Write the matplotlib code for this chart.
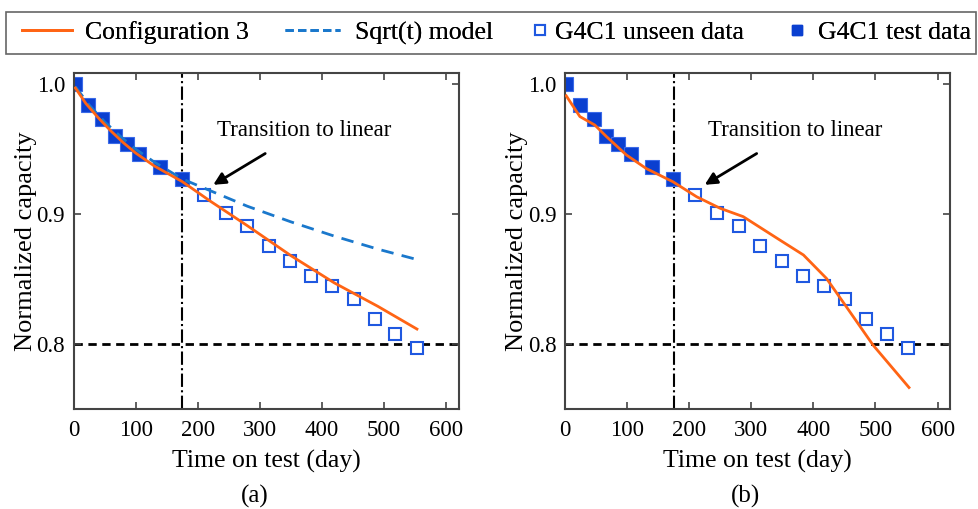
import matplotlib
matplotlib.use("Agg")
import matplotlib.pyplot as plt
from matplotlib.lines import Line2D
from matplotlib.patches import Rectangle

# test data (filled) and unseen data (open)
test_days = [2, 24, 46, 66, 86, 106, 140, 174]
test_cap = [1.000, 0.984, 0.973, 0.960, 0.954, 0.946, 0.936, 0.927]
unseen_days = [210, 245, 280, 314, 349, 383, 417, 451, 485, 518, 553]
unseen_cap = [0.915, 0.9005, 0.891, 0.8755, 0.8635, 0.8525, 0.845, 0.8345, 0.8195, 0.808, 0.797]

# panel (a) model curves
cfg3_a_days = [3, 20, 40, 60, 80, 100, 130, 175, 220, 280, 350, 420, 490, 553]
cfg3_a_cap = [0.997, 0.985, 0.974, 0.964, 0.955, 0.947, 0.937, 0.925, 0.910, 0.891, 0.868, 0.847, 0.829, 0.8115]
sqrt_days = [3, 25, 50, 75, 100, 130, 175, 220, 280, 350, 420, 490, 553]
sqrt_cap = [0.998, 0.984, 0.971, 0.960, 0.950, 0.940, 0.927, 0.918, 0.906, 0.894, 0.883, 0.873, 0.865]

# panel (b) model curve
cfg3_b_days = [2, 24, 48, 67, 99, 131, 174, 212, 250, 287, 346, 384, 421, 453, 496, 554]
cfg3_b_cap = [0.991, 0.975, 0.9685, 0.9595, 0.9454, 0.935, 0.9248, 0.9133, 0.9044, 0.898,
              0.880, 0.8685, 0.8505, 0.8287, 0.7992, 0.7665]

x_ticks = [0, 100, 200, 300, 400, 500, 600]
y_ticks = [0.8, 0.9, 1.0]
t_switch = 175
eol = 0.8

orange = "#ff6414"
blue_dash = "#1a78cc"
blue_fill = "#0a3fd0"
blue_open = "#1f58e0"

plt.rcParams["font.family"] = "Liberation Serif"

fig = plt.figure(figsize=(9.79, 5.09), dpi=100)
ax_a = fig.add_axes([0.0751, 0.1965, 0.3933, 0.660])
ax_b = fig.add_axes([0.5771, 0.1965, 0.3933, 0.660])


def draw_panel(ax, cfg_days, cfg_cap, show_sqrt, tag):
    ax.axvline(t_switch, color="black", lw=1.5, ls="-.", zorder=1)
    ax.axhline(eol, color="black", lw=2, ls=(0, (3, 2)), zorder=1)
    ax.plot(test_days, test_cap, ls="none", marker="s", ms=9.5,
            mfc=blue_fill, mec="#3a6ae8", mew=0.8, zorder=2)
    ax.plot(unseen_days, unseen_cap, ls="none", marker="s", ms=8.5,
            mfc="white", mec=blue_open, mew=1.5, zorder=2)
    if show_sqrt:
        ax.plot(sqrt_days, sqrt_cap, color=blue_dash, lw=2, dashes=(4.5, 3), zorder=3)
    ax.plot(cfg_days, cfg_cap, color=orange, lw=2, zorder=4)

    ax.annotate("Transition to linear", xy=(225, 0.9225), xytext=(371, 0.9645),
                ha="center", va="center", fontsize=16.5,
                arrowprops=dict(arrowstyle="-|>", color="black", lw=2,
                                mutation_scale=18, shrinkA=14, shrinkB=0))

    ax.set_xlim(0, 620)
    ax.set_ylim(0.75, 1.0085)
    ax.set_xticks(x_ticks)
    ax.set_yticks(y_ticks)
    ax.set_yticklabels(["0.8", "0.9", "1.0"])
    ax.tick_params(direction="in", top=True, right=True, labelsize=16.5,
                   length=5, width=1.2, color="#444444", pad=8)
    ax.tick_params(axis="y", pad=6)
    for s in ax.spines.values():
        s.set_color("#444444")
        s.set_linewidth(1.5)
    ax.set_xlabel("Time on test (day)", fontsize=18.5, labelpad=6)
    ax.set_ylabel("Normalized capacity", fontsize=19, labelpad=0)
    ax.text(0.47, -0.26, tag, transform=ax.transAxes, ha="center", va="center", fontsize=18)


draw_panel(ax_a, cfg3_a_days, cfg3_a_cap, True, "(a)")
draw_panel(ax_b, cfg3_b_days, cfg3_b_cap, False, "(b)")

# legend: one entry per legend so each sits where it does in the original
handles = [
    Line2D([], [], color=orange, lw=2),
    Line2D([], [], color=blue_dash, lw=2, dashes=(3, 1.5)),
    Line2D([], [], ls="none", marker="s", ms=7, mfc="white", mec=blue_open, mew=1.5),
    Line2D([], [], ls="none", marker="s", ms=7, mfc=blue_fill, mec=blue_fill),
]
labels = ["Configuration 3", "Sqrt(t) model", "G4C1 unseen data", "G4C1 test data"]
leg_x = [22, 285, 535, 792]          # px from left
leg_hlen = [1.95, 2.14, 0.4, 0.4]
leg_pad = [0.5, 0.58, 0.39, 0.62]
W, H = 979, 509
for h, lab, x, hl, pd in zip(handles, labels, leg_x, leg_hlen, leg_pad):
    lg = fig.legend([h], [lab], loc="center left", bbox_to_anchor=(x / W, 1 - 33 / H),
                    fontsize=18.5, frameon=False, handlelength=hl, handletextpad=pd,
                    borderpad=0, borderaxespad=0)
    fig.add_artist(lg)

fig.patches.append(Rectangle((6 / W, 1 - 54 / H), 970 / W, 42 / H, transform=fig.transFigure,
                             fill=False, edgecolor="#666666", lw=1.2))

fig.savefig("out.png", dpi=100)
